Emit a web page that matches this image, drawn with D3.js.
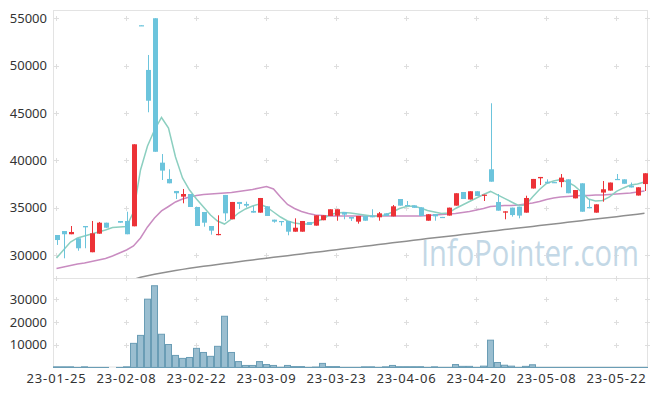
<!DOCTYPE html>
<html>
<head>
<meta charset="utf-8">
<script src="https://cdn.jsdelivr.net/npm/d3@7/dist/d3.min.js"></script>
<style>
  html, body { margin: 0; padding: 0; background: #fff; }
  svg { display: block; font-family: "Noto Sans", sans-serif; }
</style>
</head>
<body>
<svg id="chart" width="657" height="396"></svg>
<script>
// trading days (KRX, 2023)
const dates = [
  "23-01-25","23-01-26","23-01-27","23-01-30","23-01-31",
  "23-02-01","23-02-02","23-02-03","23-02-06","23-02-07","23-02-08","23-02-09","23-02-10",
  "23-02-13","23-02-14","23-02-15","23-02-16","23-02-17","23-02-20","23-02-21","23-02-22",
  "23-02-23","23-02-24","23-02-27","23-02-28",
  "23-03-02","23-03-03","23-03-06","23-03-07","23-03-08","23-03-09","23-03-10","23-03-13",
  "23-03-14","23-03-15","23-03-16","23-03-17","23-03-20","23-03-21","23-03-22","23-03-23",
  "23-03-24","23-03-27","23-03-28","23-03-29","23-03-30","23-03-31",
  "23-04-03","23-04-04","23-04-05","23-04-06","23-04-07","23-04-10","23-04-11","23-04-12",
  "23-04-13","23-04-14","23-04-17","23-04-18","23-04-19","23-04-20","23-04-21","23-04-24",
  "23-04-25","23-04-26","23-04-27","23-04-28",
  "23-05-02","23-05-03","23-05-04","23-05-08","23-05-09","23-05-10","23-05-11","23-05-12",
  "23-05-15","23-05-16","23-05-17","23-05-18","23-05-19","23-05-22","23-05-23","23-05-24",
  "23-05-25","23-05-26"
];

const tickLabels = ["23-01-25","23-02-08","23-02-22","23-03-09","23-03-23","23-04-06","23-04-20","23-05-08","23-05-22"];
const priceTicks = [30000, 35000, 40000, 45000, 50000, 55000];
const volumeTicks = [10000, 20000, 30000];

// OHLC (null = no candle that day)
const open = [32110,32530,32190,31760,33060,30290,32250,33410,null,33590,33590,33030,54260,49540,55000,39750,38030,36760,36160,36440,
  35070,34540,33060,32110,36340,33770,35600,35390,34650,34470,35140,33730,33590,33590,32460,32460,33480,33100,33670,34120,
  34150,34540,34010,33520,34120,34150,33980,34400,34080,35910,35280,35240,35030,33620,34330,34020,34160,35210,36650,35860,
  36730,36340,39050,35600,34470,35000,35100,34470,37020,38100,37740,37700,37700,37990,35980,37570,35070,34470,36590,36800,
  38030,37990,37320,36280,37490];
const high = [32110,32530,33060,31760,33060,33590,33490,33410,null,33590,34570,41690,54260,51120,55000,40660,39050,36760,36970,36440,
  35070,34540,33060,34190,36340,35600,35600,35630,35180,36020,35140,33730,33590,33590,33870,33590,33480,34190,34190,34830,
  34830,34540,34010,34120,34120,34830,34540,34400,35280,35910,35700,35240,35030,34300,34330,34020,35000,36520,36650,36730,
  36730,36370,46020,36440,34610,35000,35100,36260,38030,38240,37990,37700,38550,37990,36860,37570,35880,35350,37810,37650,
  38550,37990,37650,37150,38630];
const low = [31060,29650,32190,30450,30710,30290,32250,32880,null,33410,32190,33030,54200,45070,40900,37920,37570,35910,35460,35070,
  33060,32990,32150,32080,33590,33770,34860,35020,34470,34470,34120,33410,33100,32080,32460,32460,33170,33100,33670,34120,
  33620,33770,33590,33310,33620,33980,33620,34120,34080,35210,35170,34980,34120,33620,33620,33980,34160,35210,35910,35860,
  36230,35700,37740,34680,33770,34050,33870,34470,37020,37390,37570,37600,37150,36520,35980,34570,34930,34470,35630,36800,
  37920,37520,37130,36280,36760];
const close = [31580,32190,32430,30710,32920,32290,33410,32880,null,33410,32190,41690,54200,46290,40900,38910,37570,36520,36440,35070,
  33060,33410,32570,32220,34400,35600,35390,35210,34470,36020,34120,33520,33520,32460,32880,33590,33170,34190,34190,34830,
  34830,34260,33840,34120,33620,33980,34400,34120,35140,35210,35170,34980,34120,34300,34080,33980,35000,36520,35910,36730,
  36230,36370,37740,34680,34610,34220,34160,36020,38030,38240,37570,37600,38170,36520,36860,34570,34930,35350,36940,37650,
  37920,37520,37130,37150,38630];
const volume = [300,300,300,30,300,30,30,30,0,30,300,10600,14100,30000,35900,14600,10100,5300,4000,4400,
  8400,6600,4900,9300,22500,6600,2600,900,900,2600,1300,900,100,900,400,400,50,200,1800,400,
  400,50,50,50,300,300,50,300,900,350,350,350,350,50,300,50,50,1300,500,500,
  50,600,12000,2200,1000,600,50,500,1200,50,50,50,50,50,50,50,50,50,50,50,
  50,50,50,50,50];

// moving averages
const ma5 = [29680,30530,31370,31800,32010,32220,32430,32640,32900,32960,33010,34540,38980,41510,43200,44520,43410,40350,38130,36860,
  35910,35070,34220,33590,33270,33800,34430,34860,35170,35390,35070,34540,34010,33590,33380,33270,33270,33480,33800,34220,
  34430,34490,34430,34330,34220,34120,34120,34220,34540,34910,35120,35170,34960,34700,34540,34380,34430,34910,35280,35650,
  36020,36390,36710,36340,35970,35600,35230,35280,36130,36920,37550,37810,37970,37710,37290,36650,35910,35700,35760,36130,
  36710,37080,37390,37500,37710];
const ma20 = [28570,28730,28890,29050,29150,29310,29470,29630,29890,30210,30530,30950,31800,32960,33910,34650,35120,35600,35910,36120,
  36280,36390,36440,36490,36550,36600,36710,36810,36920,37080,37230,36970,36120,35330,34910,34590,34380,34220,34170,34120,
  34120,34120,34120,34120,34120,34120,34120,34120,34120,34120,34120,34120,34120,34170,34220,34280,34330,34380,34490,34590,
  34750,34910,35120,35170,35230,35230,35280,35390,35490,35650,35860,36020,36120,36180,36230,36280,36280,36340,36340,36390,
  36440,36490,36550,36650,36760];
const ma120 = [null,null,null,null,null,null,null,null,null,null,null,27410,27650,27800,27960,28100,28230,28350,28480,28600,
  28700,28810,28900,29000,29090,29190,29280,29380,29470,29570,29660,29750,29840,29930,30020,30110,30200,30290,30380,30470,
  30560,30650,30740,30830,30920,31010,31100,31190,31280,31370,31460,31550,31640,31730,31810,31900,31990,32070,32160,32240,
  32330,32420,32500,32590,32680,32760,32850,32930,33020,33110,33190,33280,33360,33450,33540,33620,33710,33800,33880,33970,
  34050,34140,34230,34310,34400];

const upColor = "#ec3237"
const downColor = "#6cc4dc"
const gridColor = "#dedede"

const svg = d3.select("#chart");
const plotLeft = 53, plotRight = 648, plotTop = 10, plotMid = 278, plotBottom = 367.5;

const x = d3.scaleBand().domain(dates).range([plotLeft, plotRight]);
const cx = d => x(d) + x.bandwidth() / 2;
const yPrice = d3.scaleLinear().domain([27570, 55870]).range([plotMid, plotTop]);
const yVol = d3.scaleLinear().domain([0, 39300]).range([plotBottom, plotMid]);

// panel frames
svg.append("rect").attr("x", plotLeft + 0.5).attr("y", plotTop + 0.5).attr("width", plotRight - plotLeft - 1).attr("height", plotMid - plotTop)
  .attr("fill", "none").attr("stroke", "#e3e3e3");
svg.append("rect").attr("x", plotLeft + 0.5).attr("y", plotMid + 0.5).attr("width", plotRight - plotLeft - 1).attr("height", plotBottom - plotMid - 1)
  .attr("fill", "none").attr("stroke", "#e3e3e3");

// grid crosses
const crossX = tickLabels.map(cx).concat([plotRight - 0.5]);
function crosses(ys) {
  ys.forEach(yy => crossX.forEach(xx => {
    svg.append("path").attr("d", `M${xx - 2.5},${yy}H${xx + 2.5}M${xx},${yy - 2.5}V${yy + 2.5}`)
      .attr("stroke", gridColor).attr("stroke-width", 1);
  }));
}
crosses(priceTicks.map(v => Math.round(yPrice(v)) + 0.5));
crosses(volumeTicks.map(v => Math.round(yVol(v)) + 0.5));
crosses([plotMid + 0.5]);

// watermark, squeezed horizontally to the width it has in the original
const wm = svg.append("text").attr("y", 266).text("InfoPointer.com")
  .attr("font-family", "'Open Sans', sans-serif").attr("font-size", 36)
  .attr("fill", "#c3d8e6");
const wmW = wm.node().getComputedTextLength();
wm.attr("transform", `translate(421,0) scale(${218 / wmW},1)`);

// clip for price panel
svg.append("clipPath").attr("id", "pclip").append("rect")
  .attr("x", plotLeft).attr("y", plotTop).attr("width", plotRight - plotLeft).attr("height", plotMid - plotTop);
const pg = svg.append("g").attr("clip-path", "url(#pclip)");

// moving averages
const maLine = d3.line().defined(d => d[1] != null).x(d => cx(d[0])).y(d => yPrice(d[1]));
[[ma120, "#8f8f8f"], [ma20, "#c98cc1"], [ma5, "#8ccfc0"]].forEach(([arr, col]) => {
  pg.append("path").datum(dates.map((d, i) => [d, arr[i]]))
    .attr("d", maLine).attr("fill", "none").attr("stroke", col).attr("stroke-width", 1.5);
});

// candles
const candles = dates.map((d, i) => ({ d, o: open[i], h: high[i], l: low[i], c: close[i] })).filter(k => k.o != null);
const bw = x.bandwidth() - 2;
const cg = pg.selectAll("g.candle").data(candles).join("g").attr("class", "candle");
cg.append("line")
  .attr("x1", k => Math.round(cx(k.d)) + 0.5).attr("x2", k => Math.round(cx(k.d)) + 0.5)
  .attr("y1", k => yPrice(k.h)).attr("y2", k => yPrice(k.l))
  .attr("stroke", k => k.c > k.o ? upColor : downColor).attr("stroke-width", 1);
cg.append("rect")
  .attr("x", k => Math.round(cx(k.d)) + 0.5 - bw / 2)
  .attr("y", k => yPrice(Math.max(k.o, k.c)))
  .attr("width", bw)
  .attr("height", k => Math.max(1.2, Math.abs(yPrice(k.o) - yPrice(k.c))))
  .attr("fill", k => k.c > k.o ? upColor : downColor);

// volume bars
svg.append("g").selectAll("rect").data(dates.map((d, i) => ({ d, v: volume[i] })).filter(k => k.v > 0)).join("rect")
  .attr("x", k => x(k.d) + 0.5)
  .attr("y", k => yVol(k.v))
  .attr("width", x.bandwidth() - 1)
  .attr("height", k => plotBottom - yVol(k.v))
  .attr("fill", "rgba(120,168,192,0.75)")
  .attr("stroke", "#6a9db5").attr("stroke-width", 1);

// axes
const axisStyle = g => {
  g.select(".domain").remove();
  g.selectAll("text").attr("font-size", 13).attr("fill", "#333").attr("font-family", "'Noto Sans', sans-serif");
};
svg.append("g").attr("transform", `translate(${plotLeft},0)`)
  .call(d3.axisLeft(yPrice).tickValues(priceTicks).tickSize(0).tickPadding(6).tickFormat(d3.format("d")))
  .call(axisStyle);
svg.append("g").attr("transform", `translate(${plotLeft},0)`)
  .call(d3.axisLeft(yVol).tickValues(volumeTicks).tickSize(0).tickPadding(6).tickFormat(d3.format("d")))
  .call(axisStyle);
svg.append("g").attr("transform", `translate(0,${plotBottom})`)
  .call(d3.axisBottom(x).tickValues(tickLabels).tickSize(0).tickPadding(6))
  .call(axisStyle)
  .call(g => g.selectAll("text").attr("letter-spacing", 0.9));
</script>
</body>
</html>
